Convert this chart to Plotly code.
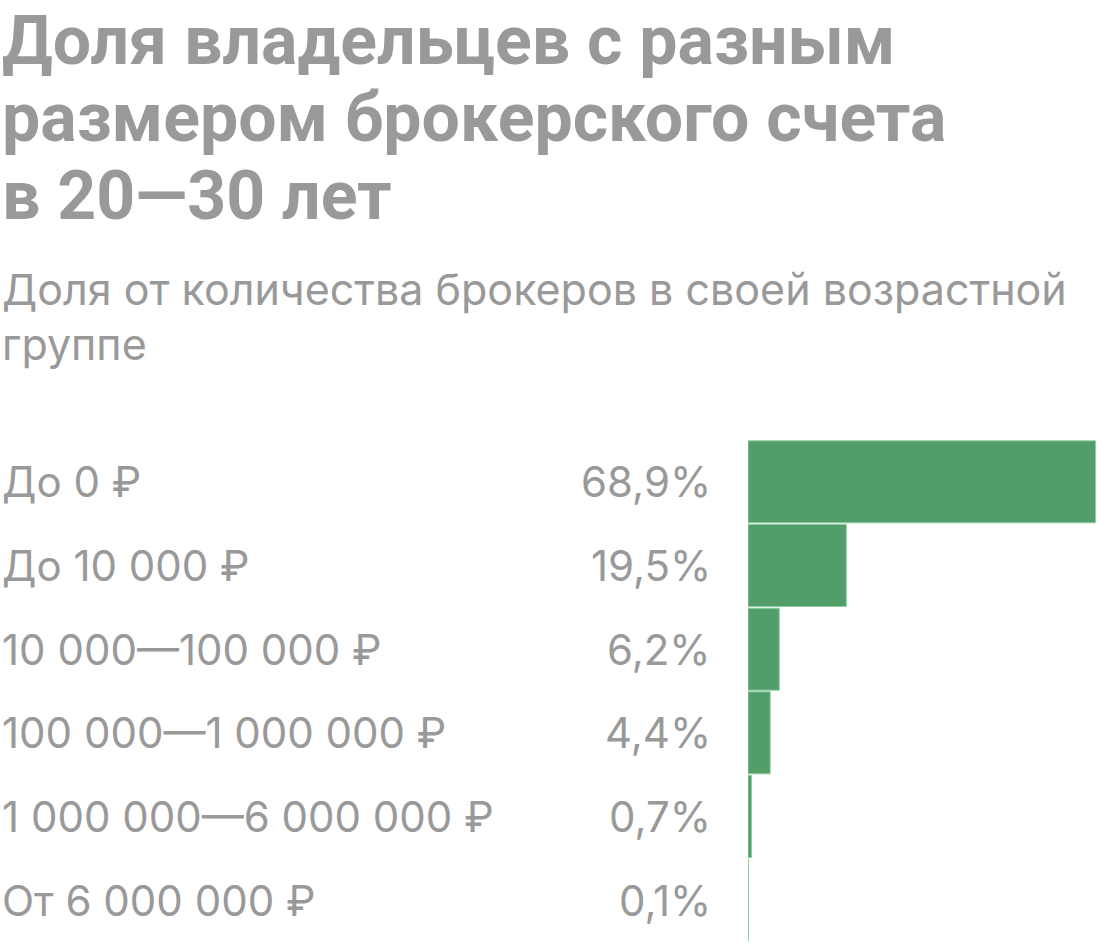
import plotly.graph_objects as go

categories = ["До 0 ₽", "До 10 000 ₽", "10 000—100 000 ₽", "100 000—1 000 000 ₽",
              "1 000 000—6 000 000 ₽", "От 6 000 000 ₽"]
values = [68.9, 19.5, 6.2, 4.4, 0.7, 0.1]
value_labels = ["68,9%", "19,5%", "6,2%", "4,4%", "0,7%", "0,1%"]

title_lines = ["Доля владельцев с разным", "размером брокерского счета", "в 20—30 лет"]
subtitle_lines = ["Доля от количества брокеров в своей возрастной", "группе"]

W, H = 1120, 944
GRAY = "#999999"
FONT = "Inter"

fig = go.Figure()
fig.add_trace(go.Bar(
    x=values, y=categories, orientation="h",
    marker=dict(color="#519e6a", line=dict(color="#8fcfa2", width=1)),
    hoverinfo="skip",
))

def py(px):
    return 1 - px / H

annotations = []
for i, (line, yc) in enumerate(zip(title_lines, [41, 118, 196])):
    annotations.append(dict(text=line, xref="paper", yref="paper", x=0, y=py(yc),
                            xanchor="left", yanchor="middle", showarrow=False,
                            font=dict(family="Roboto", size=68, color=GRAY, weight="bold")))
for line, yc in zip(subtitle_lines, [289, 344]):
    annotations.append(dict(text=line, xref="paper", yref="paper", x=0, y=py(yc),
                            xanchor="left", yanchor="middle", showarrow=False,
                            font=dict(family=FONT, size=43, color=GRAY)))
for cat, lab in zip(categories, value_labels):
    annotations.append(dict(text=cat, xref="paper", yref="y", x=0, y=cat,
                            xanchor="left", yanchor="middle", showarrow=False,
                            font=dict(family=FONT, size=42, color=GRAY)))
    annotations.append(dict(text=lab, xref="paper", yref="y", x=713 / W, y=cat,
                            xanchor="right", yanchor="middle", showarrow=False,
                            font=dict(family=FONT, size=42, color=GRAY)))

fig.update_layout(
    width=W, height=H,
    margin=dict(l=0, r=0, t=0, b=0),
    paper_bgcolor="white", plot_bgcolor="white",
    showlegend=False, bargap=0.02,
    xaxis=dict(domain=[748 / W, 1096 / W], range=[0, 69], visible=False, fixedrange=True),
    yaxis=dict(domain=[py(942), py(440)], autorange="reversed", visible=False,
               categoryorder="array", categoryarray=categories, fixedrange=True),
    annotations=annotations,
)

fig.write_html("out.html", config={"displayModeBar": False})
